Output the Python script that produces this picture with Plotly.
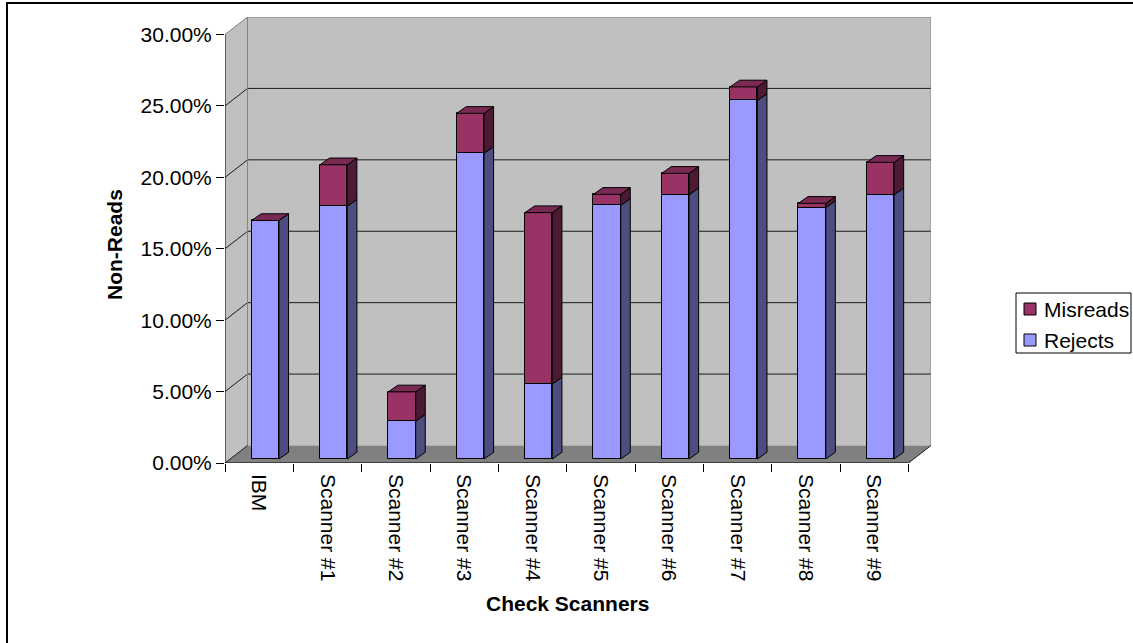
import plotly.graph_objects as go

# ---- data -------------------------------------------------------------
scanners = ["IBM", "Scanner #1", "Scanner #2", "Scanner #3", "Scanner #4",
            "Scanner #5", "Scanner #6", "Scanner #7", "Scanner #8", "Scanner #9"]
rejects = [16.7, 17.7, 2.65, 21.4, 5.25, 17.75, 18.5, 25.1, 17.6, 18.5]
misreads = [0.0, 2.9, 2.05, 2.8, 12.0, 0.78, 1.5, 0.95, 0.3, 2.27]
y_ticks = [0, 5, 10, 15, 20, 25, 30]
y_tick_labels = ["0.00%", "5.00%", "10.00%", "15.00%", "20.00%", "25.00%", "30.00%"]

# ---- canvas / plot area (pixels) -------------------------------------
W_PX, H_PX = 1133, 643
PL, PR, PT, PB = 225, 931, 17, 463


def px(x):
    return (x - PL) / (PR - PL)


def py(y):
    return (PB - y) / (PB - PT)


# ---- pseudo-3D geometry (data units) ---------------------------------
N = len(scanners)
X0, X1 = -0.5, N - 0.5          # front edge of the floor
YMAX = 30.0
DX, DY = 0.33, 1.225            # depth of the back wall
BAR_OFF, BAR_W = 0.09, 0.40     # bar front-face centre offset and width
BAR_Z = 0.28                    # lift of the bar front face (depth position)
BX, BY = 0.14, 0.47             # bar depth

REJ_FRONT, REJ_SIDE = "#9999FF", "#4D4D80"
MIS_FRONT, MIS_SIDE, MIS_TOP = "#993366", "#4D1A33", "#7A2952"
FONT = "Liberation Sans, Arial, sans-serif"
FS = 21

fig = go.Figure()

# front faces as real bars
mis_base = [BAR_Z + r for r in rejects]
xs = [i + BAR_OFF for i in range(N)]
fig.add_trace(go.Bar(name="Misreads", x=xs, y=misreads, base=mis_base, width=BAR_W,
                     marker=dict(color=MIS_FRONT, line=dict(color="black", width=1)),
                     hoverinfo="skip", showlegend=False))
fig.add_trace(go.Bar(name="Rejects", x=xs, y=rejects, base=[BAR_Z] * N, width=BAR_W,
                     marker=dict(color=REJ_FRONT, line=dict(color="black", width=1)),
                     hoverinfo="skip", showlegend=False))


def side_faces(bottoms, heights):
    fx, fy = [], []
    for i, (b, h) in enumerate(zip(bottoms, heights)):
        xr = i + BAR_OFF + BAR_W / 2
        t = b + h
        fx += [xr, xr + BX, xr + BX, xr, xr, None]
        fy += [b, b + BY, t + BY, t, b, None]
    return fx, fy


def top_faces(tops):
    fx, fy = [], []
    for i, t in enumerate(tops):
        xl = i + BAR_OFF - BAR_W / 2
        xr = xl + BAR_W
        fx += [xl, xr, xr + BX, xl + BX, xl, None]
        fy += [t, t, t + BY, t + BY, t, None]
    return fx, fy


for (bx, by), col in [(side_faces([BAR_Z] * N, rejects), REJ_SIDE),
                      (side_faces(mis_base, misreads), MIS_SIDE),
                      (top_faces([b + m for b, m in zip(mis_base, misreads)]), MIS_TOP)]:
    fig.add_trace(go.Scatter(x=bx, y=by, mode="lines", fill="toself", fillcolor=col,
                             line=dict(color="black", width=1), showlegend=False,
                             hoverinfo="skip"))

# ---- walls, floor and grid -------------------------------------------
shapes = []


def poly(pts, fill, layer="below"):
    path = "M " + " L ".join(f"{x},{y}" for x, y in pts) + " Z"
    shapes.append(dict(type="path", path=path, xref="x", yref="y", fillcolor=fill,
                       line=dict(width=0), layer=layer))


def seg(x0, y0, x1, y1, col, width=1, layer="below"):
    shapes.append(dict(type="line", x0=x0, y0=y0, x1=x1, y1=y1, xref="x", yref="y",
                       line=dict(color=col, width=width), layer=layer))


poly([(X0 + DX, DY), (X1 + DX, DY), (X1 + DX, YMAX + DY), (X0 + DX, YMAX + DY)], "#C0C0C0")
poly([(X0, 0), (X0 + DX, DY), (X0 + DX, YMAX + DY), (X0, YMAX)], "#C0C0C0")
poly([(X0, 0), (X1, 0), (X1 + DX, DY), (X0 + DX, DY)], "#808080")

for v in y_ticks[1:-1]:
    seg(X0 + DX, v + DY, X1 + DX, v + DY, "#1A1A1A")
    seg(X0, v, X0 + DX, v + DY, "#1A1A1A")

# wall outlines
seg(X0 + DX, YMAX + DY, X1 + DX, YMAX + DY, "#808080")
seg(X0, YMAX, X0 + DX, YMAX + DY, "#808080")
seg(X0 + DX, DY, X0 + DX, YMAX + DY, "#808080")
seg(X1 + DX, DY, X1 + DX, YMAX + DY, "#808080")
seg(X0, 0, X0 + DX, DY, "#1A1A1A")
seg(X1, 0, X1 + DX, DY, "#1A1A1A")

# front axis lines
seg(X0, 0, X0, YMAX, "black", layer="above")
seg(X0, 0, X1, 0, "black", layer="above")

# chart area border (runs off the right and bottom of the canvas)
shapes.append(dict(type="rect", xref="paper", yref="paper", x0=px(7), y0=py(665),
                   x1=px(1160), y1=py(3), line=dict(color="black", width=2),
                   fillcolor="rgba(0,0,0,0)", layer="below"))

# ---- legend box --------------------------------------------------------
legend_items = [("Misreads", MIS_FRONT, 309), ("Rejects", REJ_FRONT, 340)]
shapes.append(dict(type="rect", xref="paper", yref="paper", x0=px(1016), y0=py(353),
                   x1=px(1131), y1=py(293), line=dict(color="black", width=1),
                   fillcolor="white", layer="above"))
annotations = []
for name, col, yc in legend_items:
    shapes.append(dict(type="rect", xref="paper", yref="paper", x0=px(1024),
                       y0=py(yc + 6), x1=px(1036), y1=py(yc - 6),
                       line=dict(color="black", width=1), fillcolor=col, layer="above"))
    annotations.append(dict(text=name, xref="paper", yref="paper", x=px(1042),
                            y=py(yc), xanchor="left", yanchor="middle",
                            showarrow=False, font=dict(size=FS)))

annotations += [
    dict(text="<b>Check Scanners</b>", xref="paper", yref="paper",
         x=px(567), y=py(603), showarrow=False, font=dict(size=FS),
         xanchor="center", yanchor="middle"),
    dict(text="<b>Non-Reads</b>", xref="paper", yref="paper",
         x=px(115), y=py(245), showarrow=False, textangle=-90,
         font=dict(size=FS), xanchor="center", yanchor="middle"),
]

fig.update_layout(
    width=W_PX, height=H_PX,
    margin=dict(l=PL, r=W_PX - PR, t=PT, b=H_PX - PB, autoexpand=False),
    paper_bgcolor="white", plot_bgcolor="white",
    barmode="overlay", bargap=0,
    shapes=shapes, annotations=annotations,
    font=dict(family=FONT, size=FS, color="black"),
    showlegend=False,
    xaxis=dict(range=[X0, X1 + DX], tickmode="array", tickvals=list(range(N)),
               ticktext=scanners, tickangle=90, ticks="", showgrid=False,
               zeroline=False, showline=False, ticklabelstandoff=10,
               tickfont=dict(size=FS),
               minor=dict(tickmode="array", tickvals=[X0 + k for k in range(N + 1)],
                          ticks="outside", ticklen=8, tickcolor="black", showgrid=False)),
    yaxis=dict(range=[0, YMAX + DY], tickmode="array", tickvals=y_ticks,
               ticktext=y_tick_labels, ticks="outside", ticklen=8, tickcolor="black",
               showgrid=False, zeroline=False, showline=False, tickfont=dict(size=FS)),
)

fig.write_html("out.html")
